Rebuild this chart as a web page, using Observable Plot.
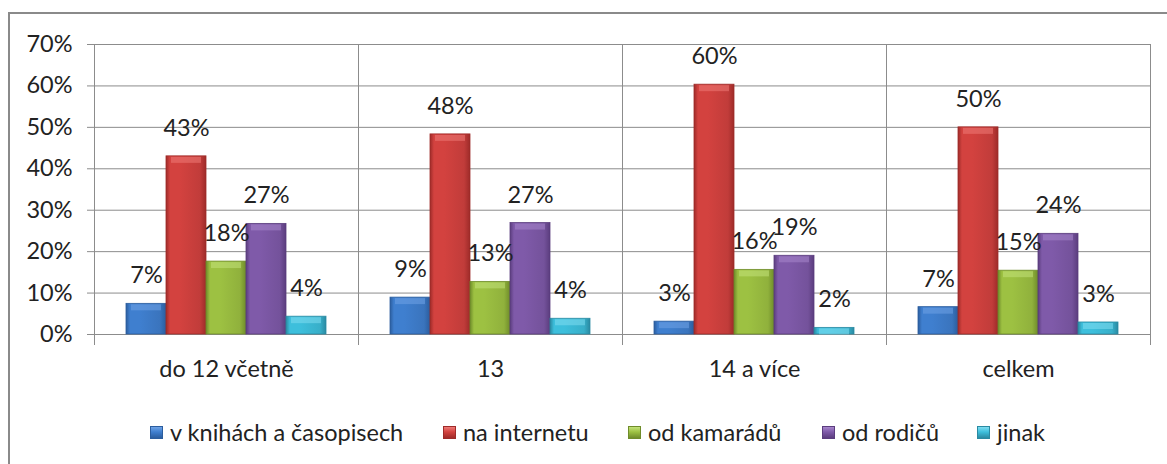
<!DOCTYPE html>
<html>
<head>
<meta charset="utf-8">
<script src="https://cdn.jsdelivr.net/npm/d3@7"></script>
<script src="https://cdn.jsdelivr.net/npm/@observablehq/plot@0.6"></script>
<style>
  html, body { margin: 0; padding: 0; background: #fff; overflow: hidden; }
  body { width: 1167px; height: 464px; position: relative; font-family: Lato, "Open Sans", sans-serif; }
  #frame { position: absolute; left: 8px; top: 12px; width: 1200px; height: 500px;
           border-top: 2px solid #8a8a8a; border-left: 2px solid #8a8a8a; }
  #chart { position: absolute; left: 10px; top: 14px; }
  .lg { position: absolute; top: 417px; height: 30px; display: flex; align-items: center;
        font-size: 23.5px; color: #222; white-space: nowrap; font-weight: 400; }
  .sw { width: 13px; height: 13px; margin-right: 7px; box-sizing: border-box; }
</style>
</head>
<body>
<div id="frame"></div>
<div id="chart"></div>
<div id="legend"></div>
<script>
// ---- data ----
const categories = ["do 12 včetně", "13", "14 a více", "celkem"];
const seriesNames = ["v knihách a časopisech", "na internetu", "od kamarádů", "od rodičů", "jinak"];
const knihy    = [7.4, 8.9, 3.1, 6.6];
const internet = [43.0, 48.3, 60.3, 50.0];
const kamaradi = [17.6, 12.7, 15.6, 15.4];
const rodice   = [26.7, 26.9, 19.0, 24.3];
const jinak    = [4.3, 3.8, 1.6, 2.9];
const yTicks = [0, 10, 20, 30, 40, 50, 60, 70];

const seriesValues = [knihy, internet, kamaradi, rodice, jinak];
const baseColors  = ["#3f7fcf", "#d3423f", "#9dc142", "#7f5aa9", "#3dbfdc"];
const lightColors = ["#6fa3e6", "#ee7a77", "#c3e27a", "#a786cc", "#7fdcf0"];
const darkColors  = ["#2b5d9e", "#9e2b29", "#6f8c2a", "#5b3d7e", "#2a8aa2"];
const legendLeft  = [150, 443, 628, 822, 977];

const data = [];
seriesNames.forEach((s, i) => categories.forEach((c, j) =>
  data.push({cat: c, series: s, value: seriesValues[i][j], idx: i})));

const gridColor = "#8c8c8c";
const fontSize = 23.5;

const barMarks = seriesNames.flatMap((s, i) => {
  const sub = data.filter(d => d.series === s);
  return [
    Plot.barY(sub, {fx: "cat", x: "series", y: "value", fill: `url(#g${i})`,
                    stroke: darkColors[i], strokeWidth: 0.8}),
    Plot.tickY(sub, {fx: "cat", x: "series", y: "value", stroke: lightColors[i],
                     strokeWidth: 6, dy: 3.5, insetLeft: 5, insetRight: 5, strokeOpacity: 0.55})
  ];
});

const chart = Plot.plot({
  width: 1157, height: 376,
  marginLeft: 83, marginRight: 17, marginTop: 30, marginBottom: 56,
  style: {fontFamily: "Lato, 'Open Sans', sans-serif", fontSize: fontSize + "px", fontWeight: 400, color: "#222", background: "transparent", overflow: "visible"},
  fx: {domain: categories, padding: 0, label: null},
  x: {domain: seriesNames, paddingInner: 0, paddingOuter: 0.725, axis: null},
  y: {domain: [0, 70], ticks: yTicks, label: null},
  marks: [
    Plot.gridY(yTicks, {stroke: gridColor, strokeOpacity: 1, strokeWidth: 1}),
    Plot.frame({anchor: "left", insetBottom: -10, stroke: gridColor}),
    Plot.frame({anchor: "right", insetBottom: -10, stroke: gridColor}),
    Plot.axisY({ticks: yTicks, tickSize: 7, tickPadding: 15, tickFormat: d => d + "%",
                stroke: gridColor, fill: "#222", fontSize, label: null}),
    Plot.axisFx({anchor: "bottom", tickSize: 0, tickPadding: 26, label: null, fill: "#222", fontSize}),
    ...barMarks,
    Plot.text(data, {fx: "cat", x: "series", y: "value", text: d => Math.round(d.value) + "%",
                     dy: -28, fontSize, fill: "#222"})
  ]
});

// gradients for bevel look
const ns = "http://www.w3.org/2000/svg";
const defs = document.createElementNS(ns, "defs");
baseColors.forEach((c, i) => {
  const g = document.createElementNS(ns, "linearGradient");
  g.setAttribute("id", "g" + i);
  g.setAttribute("x1", "0"); g.setAttribute("x2", "1");
  g.setAttribute("y1", "0"); g.setAttribute("y2", "0");
  [[0, darkColors[i]], [0.1, c], [0.35, c], [0.85, d3.color(c).darker(0.25).formatHex()], [1, darkColors[i]]]
    .forEach(([o, col]) => {
      const st = document.createElementNS(ns, "stop");
      st.setAttribute("offset", o);
      st.setAttribute("stop-color", col);
      g.appendChild(st);
    });
  defs.appendChild(g);
});
chart.insertBefore(defs, chart.firstChild);
document.getElementById("chart").appendChild(chart);

// legend
const legend = document.getElementById("legend");
seriesNames.forEach((s, i) => {
  const item = document.createElement("div");
  item.className = "lg";
  item.style.left = legendLeft[i] + "px";
  const sw = document.createElement("div");
  sw.className = "sw";
  sw.style.background = `linear-gradient(180deg, ${lightColors[i]} 0%, ${baseColors[i]} 45%, ${darkColors[i]} 100%)`;
  sw.style.border = `1px solid ${darkColors[i]}`;
  const t = document.createElement("span");
  t.textContent = s;
  item.appendChild(sw);
  item.appendChild(t);
  legend.appendChild(item);
});
</script>
</body>
</html>
